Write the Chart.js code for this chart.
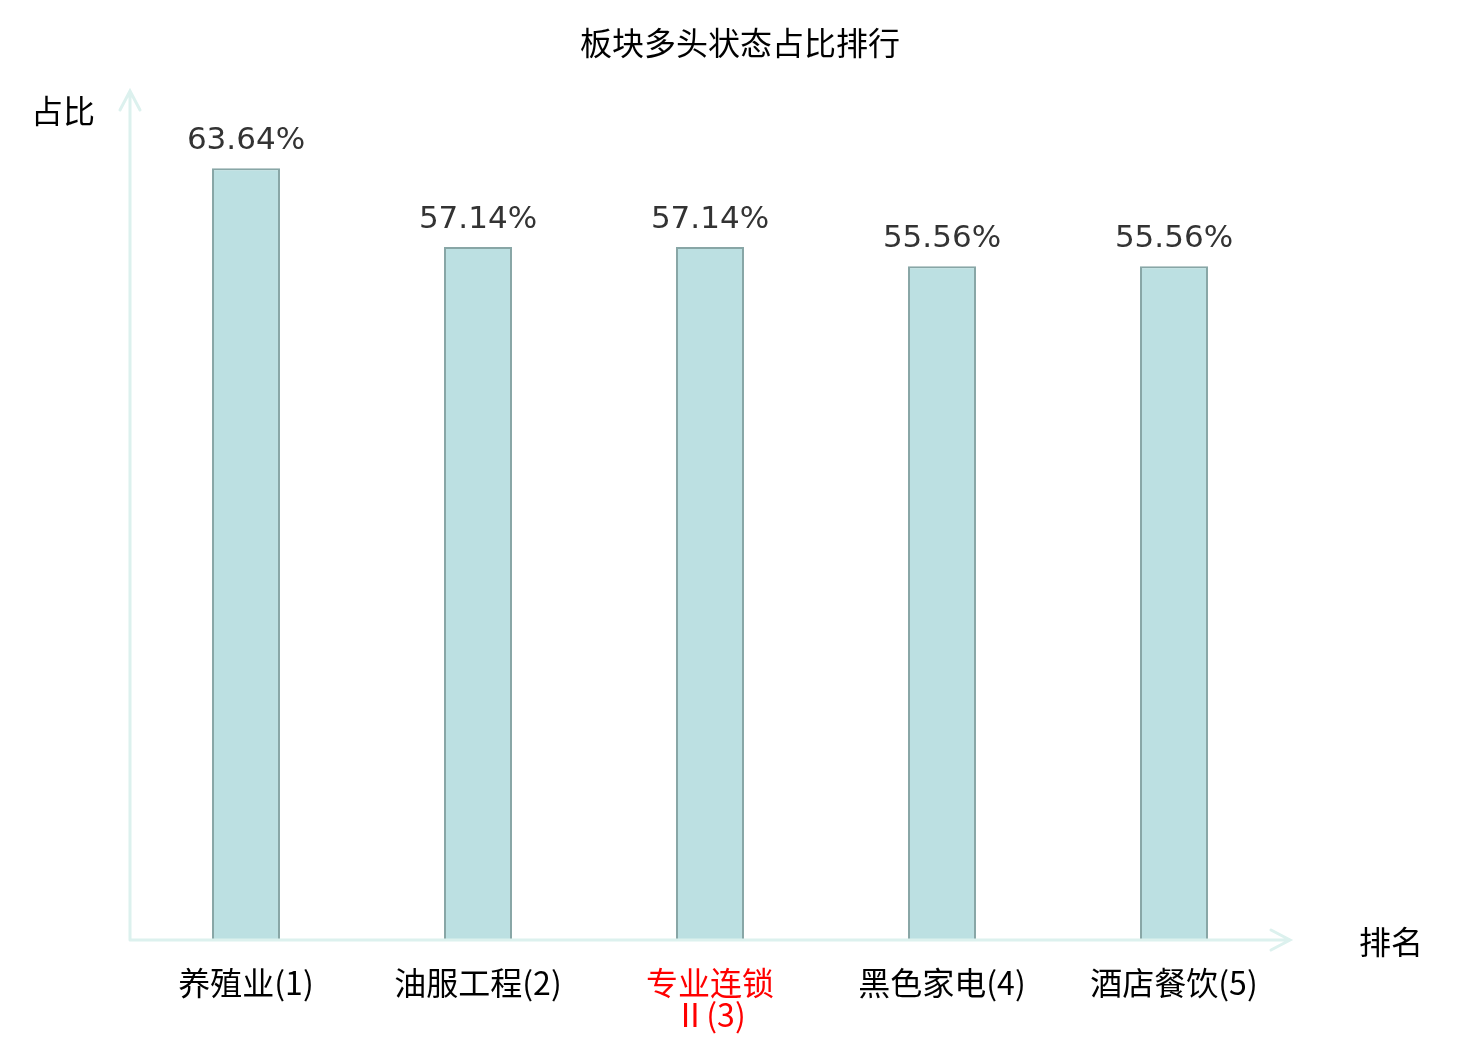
<!DOCTYPE html>
<html>
<head>
<meta charset="utf-8">
<script src="https://cdn.jsdelivr.net/npm/chart.js@4.4.1/dist/chart.umd.min.js"></script>
<style>
    html, body { margin: 0; padding: 0; background: #fff; }
    #wrap { width: 1480px; height: 1040px; position: relative; }
</style>
</head>
<body>
<div id="wrap"><canvas id="barChart"></canvas></div>
<script>
    const chartTitle = '板块多头状态占比排行';
    const categories = ['养殖业(1)', '油服工程(2)', ['专业连锁', 'Ⅱ(3)'], '黑色家电(4)', '酒店餐饮(5)'];
    const shares = [63.64, 57.14, 57.14, 55.56, 55.56];
    const highlightIndex = 2;
    const yMax = 70;

    const cjkFont = '"Noto Sans CJK SC", "Noto Sans", sans-serif';
    const axisColor = '#dcf1ee';

    // title, axis lines with arrows, axis names and the value labels
    const decorations = {
        id: 'decorations',
        afterDatasetsDraw(chart) {
            const ctx = chart.ctx,
                area = chart.chartArea,
                x = chart.scales.x,
                y = chart.scales.y;
            ctx.save();
            ctx.strokeStyle = axisColor;
            ctx.lineWidth = 3;
            ctx.lineCap = 'round';
            ctx.beginPath();
            ctx.moveTo(area.left, area.bottom);
            ctx.lineTo(area.left, area.top);
            ctx.moveTo(area.left - 10, area.top + 19);
            ctx.lineTo(area.left, area.top);
            ctx.lineTo(area.left + 10, area.top + 19);
            ctx.moveTo(area.left, area.bottom);
            ctx.lineTo(area.right, area.bottom);
            ctx.moveTo(area.right - 19, area.bottom - 10);
            ctx.lineTo(area.right, area.bottom);
            ctx.lineTo(area.right - 19, area.bottom + 10);
            ctx.stroke();

            ctx.fillStyle = '#000';
            ctx.font = '32px ' + cjkFont;
            ctx.textAlign = 'center';
            ctx.textBaseline = 'middle';
            ctx.fillText(chartTitle, chart.width / 2, 43);
            ctx.fillText('占比', area.left - 67, area.top + 20);
            ctx.fillText('排名', area.right + 101, area.bottom + 2);

            ctx.fillStyle = '#333';
            ctx.font = '31px "DejaVu Sans", sans-serif';
            shares.forEach(function (value, i) {
                ctx.fillText(value.toFixed(2) + '%', x.getPixelForValue(i), y.getPixelForValue(value) - 27);
            });
            ctx.restore();
        }
    };

    const barCtx = document.getElementById('barChart').getContext('2d');
    const barChart = new Chart(barCtx, {
        type: 'bar',
        data: {
            labels: categories,
            datasets: [{
                label: '占比',
                data: shares,
                backgroundColor: '#bce0e2',
                borderColor: '#88a6a6',
                borderWidth: 2,
                barPercentage: 0.293,
                categoryPercentage: 1
            }]
        },
        options: {
            responsive: true,
            maintainAspectRatio: false,
            animation: false,
            layout: {
                padding: { left: 130, right: 190, top: 91, bottom: 0 }
            },
            scales: {
                x: {
                    grid: { display: false, drawTicks: false },
                    border: { display: false },
                    ticks: {
                        padding: 27,
                        font: { family: cjkFont, size: 32, lineHeight: 1.0 },
                        color: function (c) {
                            return c.index === highlightIndex ? '#ff0000' : '#000';
                        }
                    },
                    afterFit: function (scale) {
                        scale.height = 100;
                    }
                },
                y: {
                    display: false,
                    min: 0,
                    max: yMax
                }
            },
            plugins: {
                legend: { display: false },
                tooltip: { enabled: false }
            }
        },
        plugins: [decorations]
    });
</script>
</body>
</html>
